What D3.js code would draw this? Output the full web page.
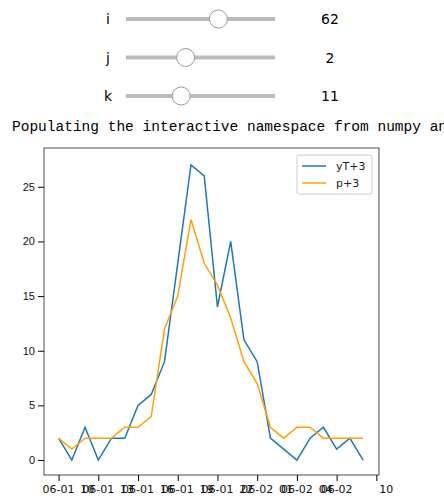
<!DOCTYPE html>
<html><head><meta charset="utf-8">
<script src="https://cdn.jsdelivr.net/npm/d3@7"></script>
<style>body{margin:0;background:#fff}</style>
</head><body><div class="demo"></div>
<script>
const w = 444, h = 504;
const sliderNames = ['i', 'j', 'k'];
const sliderValues = [62, 2, 11];
const sliderFrac = [0.62, 0.40, 0.37];
const yT = [2,0,3,0,2,2,5,6,9,18,27,26,14,20,11,9,2,1,0,2,3,1,2,0];
const p = [2,1,2,2,2,3,3,4,12,15,22,18,16,13,9,7,3,2,3,3,2,2,2,2];
const tickIdx = [0,3,6,9,12,15,18,21,24];
const tickA = ['06-01','06-01','06-01','06-01','06-01','06-02','06-02','06-02',''];
const tickB = ['','10','13','16','19','22','01','04','10'];
const yTicks = [0,5,10,15,20,25];

let svg = d3.select('.demo').append('svg').attr('width', w).attr('height', h)
  .style('font-family', 'DejaVu Sans, sans-serif');

// sliders
let sx = d3.scaleLinear().domain([0, 1]).range([126, 275]);
sliderNames.forEach(function(n, i){
  let y = 19 + i * 38.5;
  svg.append('text').attr('x', 108).attr('y', y + 5).attr('text-anchor', 'middle')
     .attr('font-size', 14).text(n);
  svg.append('rect').attr('x', 126).attr('y', y - 2).attr('width', 149).attr('height', 4)
     .attr('fill', '#bbb');
  svg.append('circle').attr('cx', sx(sliderFrac[i])).attr('cy', y).attr('r', 9)
     .attr('fill', '#fff').attr('stroke', '#999');
  svg.append('text').attr('x', 330).attr('y', y + 5).attr('text-anchor', 'middle')
     .attr('font-size', 14).text(sliderValues[i]);
});
svg.append('text').attr('x', 12).attr('y', 131).attr('font-family', 'Liberation Mono, monospace')
   .attr('font-size', 14.5).text('Populating the interactive namespace from numpy and matplotlib');

// plot
const L = 44, R = 379, T = 148, B = 475;
let xScale = d3.scaleLinear().domain([-1.1, 24.2]).range([L, R]);
let yScale = d3.scaleLinear().domain([-1.37, 28.55]).range([B, T]);

let xAxis = d3.axisBottom(xScale).tickValues(tickIdx).tickFormat('').tickSizeOuter(0);
let yAxis = d3.axisLeft(yScale).tickValues(yTicks).tickSizeOuter(0);
let gx = svg.append('g').attr('transform', 'translate(0,' + B + ')').call(xAxis);
gx.select('.domain').remove();
let gy = svg.append('g').attr('transform', 'translate(' + L + ',0)').call(yAxis);
gy.select('.domain').remove();
gy.selectAll('text').attr('font-size', 11).attr('fill', '#111');
svg.append('rect').attr('x', L).attr('y', T).attr('width', R - L).attr('height', B - T)
   .attr('fill', 'none').attr('stroke', '#222').attr('stroke-width', 0.8);

let tl = svg.append('g').attr('font-size', 11).attr('fill', '#111');
tickIdx.forEach(function(t, i){
  tl.append('text').attr('x', xScale(t)).attr('y', B + 18).attr('text-anchor', 'middle').text(tickA[i]);
  tl.append('text').attr('x', xScale(t) - (tickA[i] ? 11 : -10)).attr('y', B + 18)
    .attr('text-anchor', 'middle').text(tickB[i]);
});

let line = d3.line().x(function(d, i){ return xScale(i) }).y(function(d){ return yScale(d) });
svg.append('path').datum(yT).attr('d', line).attr('fill', 'none').attr('stroke', '#1f77b4').attr('stroke-width', 1.5);
svg.append('path').datum(p).attr('d', line).attr('fill', 'none').attr('stroke', '#ff9f0e').attr('stroke-width', 1.5);

// legend
let lg = svg.append('g');
lg.append('rect').attr('x', 297).attr('y', 155).attr('width', 75).attr('height', 39)
  .attr('fill', '#fff').attr('stroke', '#ccc').attr('rx', 2);
[['yT+3', '#1f77b4'], ['p+3', '#ff9f0e']].forEach(function(d, i){
  let y = 166 + i * 17;
  lg.append('line').attr('x1', 302).attr('x2', 326).attr('y1', y).attr('y2', y)
    .attr('stroke', d[1]).attr('stroke-width', 1.5);
  lg.append('text').attr('x', 336).attr('y', y + 4).attr('font-size', 11).attr('fill', '#222').text(d[0]);
});
</script></body></html>
